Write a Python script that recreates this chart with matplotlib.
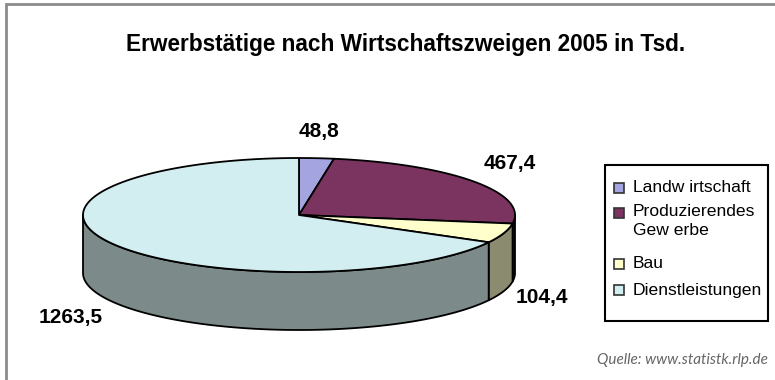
import numpy as np
import matplotlib.pyplot as plt
from matplotlib.patches import Polygon, Rectangle
from matplotlib import font_manager

# Erwerbstätige nach Wirtschaftszweigen 2005 (in Tsd.)
sectors = ["Landw irtschaft", "Produzierendes\nGew erbe", "Bau", "Dienstleistungen"]
employed = [48.8, 467.4, 104.4, 1263.5]
top_colors = ["#a4a4e0", "#7b3360", "#ffffcc", "#d3eef1"]
side_colors = ["#6a6aa0", "#3c1030", "#8b8b70", "#7c8b89"]

W, H = 775, 380
fig = plt.figure(figsize=(W / 100, H / 100), dpi=100)
ax = fig.add_axes([0, 0, 1, 1])
ax.set_xlim(0, W)
ax.set_ylim(H, 0)
ax.axis("off")

names = {f.name for f in font_manager.fontManager.ttflist}
title_font = "Liberation Sans Narrow" if "Liberation Sans Narrow" in names else "Liberation Sans"

# --- pie geometry (pixels) ---
cx, cy, rx, ry, depth = 299, 215, 216, 57, 58


def rim(t):
    r = np.radians(t)
    return cx + rx * np.cos(r), cy - ry * np.sin(r)


sweep = np.array(employed) / sum(employed) * 360
ends = 90 - np.cumsum(sweep)
starts = ends + sweep

# side walls on the front half
for i, (a0, a1) in enumerate(zip(starts, ends)):
    lo, hi = max(a1, -180), min(a0, 0)
    if hi > lo:
        t = np.linspace(hi, lo, 120)
        x, y = rim(t)
        pts = np.column_stack([np.r_[x, x[::-1]], np.r_[y, y[::-1] + depth]])
        ax.add_patch(Polygon(pts, closed=True, fc=side_colors[i], ec="black", lw=1.3, joinstyle="round"))

# top faces
for i, (a0, a1) in enumerate(zip(starts, ends)):
    t = np.linspace(a0, a1, 200)
    x, y = rim(t)
    pts = np.column_stack([np.r_[cx, x], np.r_[cy, y]])
    ax.add_patch(Polygon(pts, closed=True, fc=top_colors[i], ec="black", lw=1.3, joinstyle="round"))

# value labels
label_xy = [(319, 132), (510, 164), (542, 297), (71, 317)]
for v, (lx, ly) in zip(employed, label_xy):
    ax.text(lx, ly, f"{v:.1f}".replace(".", ","), ha="center", va="center",
            fontsize=15, fontweight="bold", family="Liberation Sans")

# legend
ax.add_patch(Rectangle((605, 165), 163, 156, fc="white", ec="black", lw=1.5))
row_y = [188, 213, 264, 290]
for name, c, yy in zip(sectors, top_colors, row_y):
    ax.add_patch(Rectangle((614, yy - 5), 10, 10, fc=c, ec="#333333", lw=1.2))
    multi = "\n" in name
    ax.text(633, yy - 9 if multi else yy, name, ha="left", va="top" if multi else "center",
            fontsize=12.6, family="Liberation Sans", linespacing=1.32)

# title
ax.text(406, 45, "Erwerbstätige nach Wirtschaftszweigen 2005 in Tsd.", ha="center", va="center",
        fontsize=16.3, fontweight="bold", family=title_font)

# source
ax.text(768, 360, "Quelle: www.statistk.rlp.de", ha="right", va="center", fontsize=11,
        style="italic", color="#666666", family="Lato")

# outer frame (top and left)
ax.plot([6, 6, W], [H, 4, 4], color="#8c8c8c", lw=2, solid_joinstyle="miter")

fig.savefig("out.png", dpi=100)
